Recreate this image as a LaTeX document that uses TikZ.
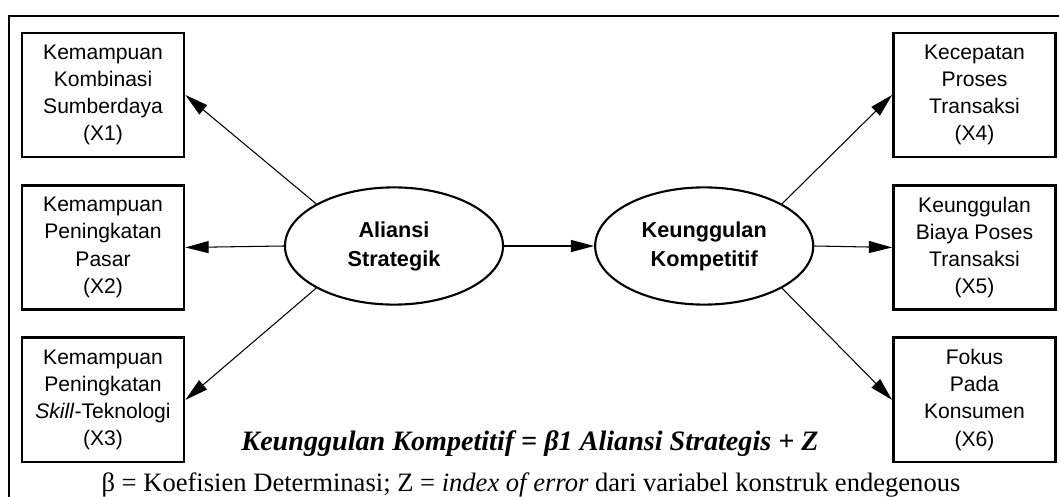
\documentclass[tikz,border=0pt]{standalone}
\usepackage{fontspec}
\setmainfont{Liberation Serif}
\setsansfont{Liberation Sans}
\usetikzlibrary{shapes.geometric, arrows.meta, positioning}

\begin{document}
\begin{tikzpicture}[x=0.025cm, y=-0.025cm,
        node distance=0.64cm,
        varbox/.style={rectangle, draw, line width=2pt, minimum width=4.05cm, minimum height=3.1cm, inner sep=0pt, align=center, font=\sffamily\fontsize{15}{19.3}\selectfont},
        latent/.style={ellipse, draw, line width=1.5pt, minimum width=5.45cm, minimum height=2.93cm, inner sep=0pt, align=center, font=\sffamily\bfseries\fontsize{15.4}{20.6}\selectfont},
        link/.style={-{Triangle[length=0.58cm, width=0.3cm]}, line width=0.75pt}
    ]
        \path[use as bounding box, clip] (0,0) rectangle (1059,497);
        \draw[line width=0.8pt] (9,520) -- (9,16) -- (1080,16);

        % latent variables
        \node[latent] (al) at (394,246) {Aliansi\\Strategik};
        \node[latent, right=2.25cm of al] (kk) {Keunggulan\\Kompetitif};

        % indicators
        \node[varbox] (x1) at (103,95) {Kemampuan\\Kombinasi\\Sumberdaya\\(X1)};
        \node[varbox, below=of x1] (x2) {Kemampuan\\Peningkatan\\Pasar\\(X2)};
        \node[varbox, below=of x2] (x3) {Kemampuan\\Peningkatan\\\textit{Skill}-Teknologi\\(X3)};
        \node[varbox] (x4) at (974.5,95) {Kecepatan\\Proses\\Transaksi\\(X4)};
        \node[varbox, below=of x4] (x5) {Keunggulan\\Biaya Poses\\Transaksi\\(X5)};
        \node[varbox, below=of x5] (x6) {Fokus\\Pada\\Konsumen\\(X6)};

        \draw[link] (al.north west) -- (x1.east);
        \draw[link] (al.west) -- (x2.east);
        \draw[link] (al.south west) -- (x3.east);
        \draw[link] (al) -- (kk);
        \draw[link] (kk.north east) -- (x4.west);
        \draw[link] (kk.east) -- (x5.west);
        \draw[link] (kk.south east) -- (x6.west);

        % equation and legend
        \node[anchor=base, inner sep=0pt, font=\fontsize{20}{22}\selectfont\bfseries\itshape] (eq) at (530,450) {Keunggulan Kompetitif = β1 Aliansi Strategis + Z};
        \node[anchor=base, inner sep=0pt, font=\fontsize{18.9}{21}\selectfont] (leg) at (531,492) {β = Koefisien Determinasi; Z = \textit{index of error} dari variabel konstruk endegenous};
    \end{tikzpicture}
\end{document}
